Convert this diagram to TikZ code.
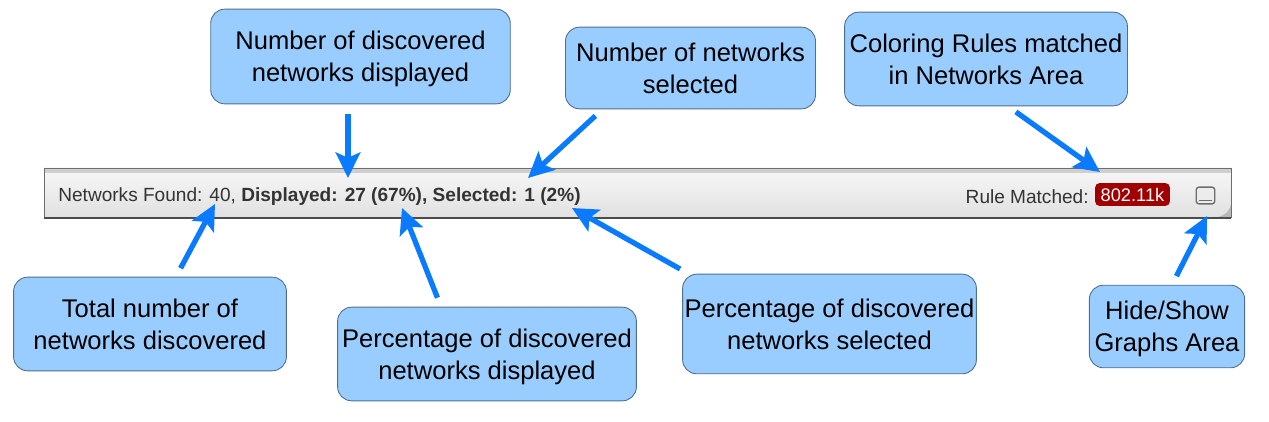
\documentclass[tikz,border=0pt]{standalone}
\usepackage{fontspec}
\setmainfont{Liberation Sans}
\usetikzlibrary{arrows.meta}
\definecolor{calloutfill}{HTML}{99CCFF}
\definecolor{calloutline}{HTML}{4F6F8F}
\definecolor{pointerblue}{HTML}{0A7BFF}
\definecolor{barline}{HTML}{6E6E6E}
\definecolor{bartext}{HTML}{333333}
\definecolor{badgered}{HTML}{A00000}
\newcommand{\droptext}{\rule{0pt}{13.6pt}}
\tikzset{
	callout/.style={draw=calloutline, fill=calloutfill, rounded corners=8pt, line width=.5pt, align=center, inner sep=0pt, font=\fontsize{14.55}{18.2}\selectfont},
	pointer/.style={draw=pointerblue, line width=3pt, shorten <=5.5pt, -{Stealth[length=14.5pt,width=14pt,inset=3pt]}},
	barlabel/.style={anchor=west, inner sep=0pt, text=bartext, font=\fontsize{10.85}{13}\selectfont}
}
\begin{document}
\begin{tikzpicture}[x=0.02cm,y=-0.02cm]
	\useasboundingbox (0,0) rectangle (1269,422);
%% The status bar across the middle, with a darker strip along its top edge
	\fill[top color=gray!6, bottom color=gray!24] (44,168) rectangle (1231,218);
	\fill[gray!38] (44,168) rectangle (1231,173);
	\fill[gray!55] (1231,205) .. controls (1228,214) and (1222,217) .. (1212,218) -- (1231,218) -- cycle;
	\draw[barline, line width=.5pt] (44,218) -- (44,168) -- (1231,168) -- (1231,218);
	\draw[black!70, line width=.8pt] (44,218) -- (1231,218);
%% Text in the bar
	\node[barlabel] (found) at (58,196.5) {Networks Found: 40, \textbf{Displayed: 27 (67\%), Selected: 1 (2\%)}};
	\node[barlabel, anchor=east] (matched) at (1089,196.5) {Rule Matched:};
	\node[fill=badgered, text=white, rounded corners=2.5pt, minimum width=42.5pt, minimum height=13pt, inner sep=0pt, font=\fontsize{10.4}{12}\selectfont] (badge) at (1132.5,194.5) {802.11k};
	\node[draw=barline, fill=gray!15, rounded corners=1.5pt, line width=.8pt, minimum width=10.5pt, minimum height=9.5pt, inner sep=0pt] (toggle) at (1205.5,195.5) {};
	\draw[barline, line width=.6pt] ([shift={(3,-4)}]toggle.south west) -- ([shift={(-3,-4)}]toggle.south east);
%% The seven callouts
	\node[callout, minimum width=170.5pt, minimum height=53.9pt] (displayedcount) at (360.5,56.5) {\droptext Number of discovered\\networks displayed};
	\node[callout, minimum width=142.3pt, minimum height=46.5pt] (selectedcount) at (690.5,68) {Number of networks\\selected};
	\node[callout, minimum width=161pt, minimum height=53.3pt] (coloring) at (986,59) {Coloring Rules matched\\in Networks Area};
	\node[callout, minimum width=155.3pt, minimum height=53.3pt] (total) at (150,324) {Total number of\\networks discovered};
	\node[callout, minimum width=170.1pt, minimum height=53.3pt] (displayedpct) at (487,354) {\droptext Percentage of discovered\\networks displayed};
	\node[callout, minimum width=167.2pt, minimum height=56.7pt] (selectedpct) at (829.5,324) {Percentage of discovered\\networks selected};
	\node[callout, minimum width=88.4pt, minimum height=47pt] (graphs) at (1167,326.5) {\droptext Hide/Show\\Graphs Area};
%% Where the arrows land
	\coordinate (displayedtip) at (348,178);
	\coordinate (selectedtip) at (528,178);
	\coordinate (coloringtip) at (1100,172);
	\coordinate (totaltip) at (215,204);
	\coordinate (pcttip) at (402,208);
	\coordinate (selpcttip) at (572,208);
	\coordinate (graphstip) at (1207,216);
	\draw[pointer] (displayedcount.south -| displayedtip) -- (displayedtip);
	\draw[pointer] ([shift={(-88,0)}]selectedcount.south) -- (selectedtip);
	\draw[pointer] ([shift={(22,0)}]coloring.south) -- (coloringtip);
	\draw[pointer] ([shift={(26,0)}]total.north) -- (totaltip);
	\draw[pointer] ([shift={(-46,0)}]displayedpct.north) -- (pcttip);
	\draw[pointer] ([shift={(-141,0)}]selectedpct.north) -- (selpcttip);
	\draw[pointer] ([shift={(5,0)}]graphs.north) -- (graphstip);
\end{tikzpicture}
\end{document}
